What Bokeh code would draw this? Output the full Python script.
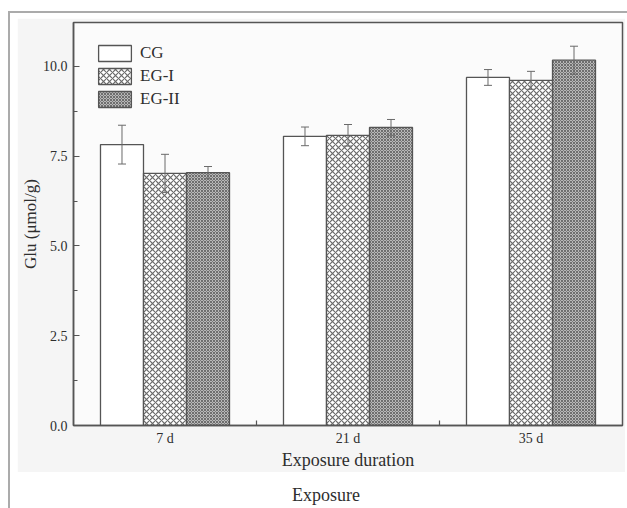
from bokeh.plotting import figure
from bokeh.layouts import column
from bokeh.models import (FixedTicker, Whisker, ColumnDataSource, Legend, LegendItem,
                          Range1d, NumeralTickFormatter, Div)
from bokeh.transform import dodge
from bokeh.embed import file_html
from bokeh.resources import INLINE

# ---- data ----
categories = ["7 d", "21 d", "35 d"]
series = ["CG", "EG-I", "EG-II"]
cg = [7.82, 8.05, 9.69]
cg_err = [0.54, 0.26, 0.22]
eg1 = [7.02, 8.08, 9.61]
eg1_err = [0.53, 0.30, 0.25]
eg2 = [7.04, 8.30, 10.17]
eg2_err = [0.17, 0.22, 0.39]
y_ticks = [0.0, 2.5, 5.0, 7.5, 10.0]
y_minor = [1.25, 3.75, 6.25, 8.75]

FONT = "Liberation Serif"
TXT = "#2e2e2e"
LINE = "#555555"

xs = list(range(len(categories)))
src = ColumnDataSource(dict(
    x=xs,
    cg=cg, cg_lo=[v - e for v, e in zip(cg, cg_err)], cg_hi=[v + e for v, e in zip(cg, cg_err)],
    eg1=eg1, eg1_lo=[v - e for v, e in zip(eg1, eg1_err)], eg1_hi=[v + e for v, e in zip(eg1, eg1_err)],
    eg2=eg2, eg2_lo=[v - e for v, e in zip(eg2, eg2_err)], eg2_hi=[v + e for v, e in zip(eg2, eg2_err)],
))

p = figure(width=608, height=454, x_range=Range1d(-0.5, 2.5), y_range=Range1d(0, 11.22),
           output_backend="svg", toolbar_location=None,
           min_border_left=55, min_border_top=4, min_border_right=3, min_border_bottom=45,
           border_fill_color="#f5f5f5", background_fill_color="#fbfbfb",
           outline_line_color=LINE, outline_line_width=1.5)
p.grid.visible = False

W = 0.235
styles = [
    dict(fill_color="white"),
    dict(fill_color="white", hatch_pattern="diagonal_cross", hatch_scale=6, hatch_color="#6a6a6a", hatch_weight=1.2),
    dict(fill_color="#b8b8b8", hatch_pattern="diagonal_cross", hatch_scale=3, hatch_color="#6e6e6e", hatch_weight=1),
]
keys = ["cg", "eg1", "eg2"]
offsets = [-W, 0.0, W]
renderers = []
for k, off, st in zip(keys, offsets, styles):
    r = p.vbar(x=dodge("x", off, range=p.x_range), top=k, width=W, source=src,
               line_color=LINE, line_width=1.3, **st)
    renderers.append(r)
    w = Whisker(base=dodge("x", off, range=p.x_range), upper=k + "_hi", lower=k + "_lo", source=src,
                line_color="#6a6a6a", line_width=1, level="annotation")
    w.upper_head.size = 8
    w.lower_head.size = 8
    w.upper_head.line_color = "#6a6a6a"
    w.lower_head.line_color = "#6a6a6a"
    p.add_layout(w)

legend = Legend(items=[LegendItem(label=s, renderers=[r]) for s, r in zip(series, renderers)],
                location="top_left", margin=21, padding=0, spacing=3,
                glyph_width=41, glyph_height=20, label_standoff=5,
                label_text_font=FONT, label_text_font_size="17px", label_text_color=TXT,
                border_line_color=None, background_fill_alpha=0)
p.add_layout(legend)

# axes
p.yaxis.ticker = FixedTicker(ticks=y_ticks, minor_ticks=y_minor)
p.yaxis.formatter = NumeralTickFormatter(format="0.0")
p.yaxis.major_tick_in = 6
p.yaxis.major_tick_out = 0
p.yaxis.minor_tick_in = 4
p.yaxis.minor_tick_out = 0
p.yaxis.axis_label = "Glu (μmol/g)"
p.yaxis.major_label_standoff = 6
p.yaxis.axis_label_standoff = 0

p.xaxis.ticker = FixedTicker(ticks=xs, minor_ticks=[0.5, 1.5])
p.xaxis.major_label_overrides = {i: c for i, c in zip(xs, categories)}
p.xaxis.major_tick_in = 0
p.xaxis.major_tick_out = 0
p.xaxis.minor_tick_in = 5
p.xaxis.minor_tick_out = 0
p.xaxis.axis_label = "Exposure duration"
p.xaxis.major_label_standoff = 5
p.xaxis.axis_label_standoff = 1

for ax in (p.xaxis[0], p.yaxis[0]):
    ax.axis_line_color = LINE
    ax.axis_line_width = 1.5
    ax.major_tick_line_color = LINE
    ax.minor_tick_line_color = LINE
    ax.major_tick_line_width = 1.2
    ax.minor_tick_line_width = 1.2
    ax.major_label_text_font = FONT
    ax.major_label_text_font_size = "14px"
    ax.major_label_text_color = TXT
    ax.axis_label_text_font = FONT
    ax.axis_label_text_font_style = "normal"
    ax.axis_label_text_color = TXT
p.yaxis.axis_label_text_font_size = "17px"
p.xaxis.axis_label_text_font_size = "18px"

bottom = Div(text="Exposure", width=608, height=34,
             styles={"text-align": "center", "font-family": FONT, "font-size": "18px",
                     "color": TXT, "line-height": "22px", "padding-top": "7px",
                     "box-sizing": "border-box", "background-color": "white"})

page = column(p, bottom, spacing=0, margin=(11, 0, 0, 8),
              styles={"border-top": "2px solid #ababab", "border-left": "2px solid #ababab",
                      "padding-top": "5px", "padding-left": "7px", "background-color": "white"})

open("out.html", "w").write(file_html(page, INLINE))
